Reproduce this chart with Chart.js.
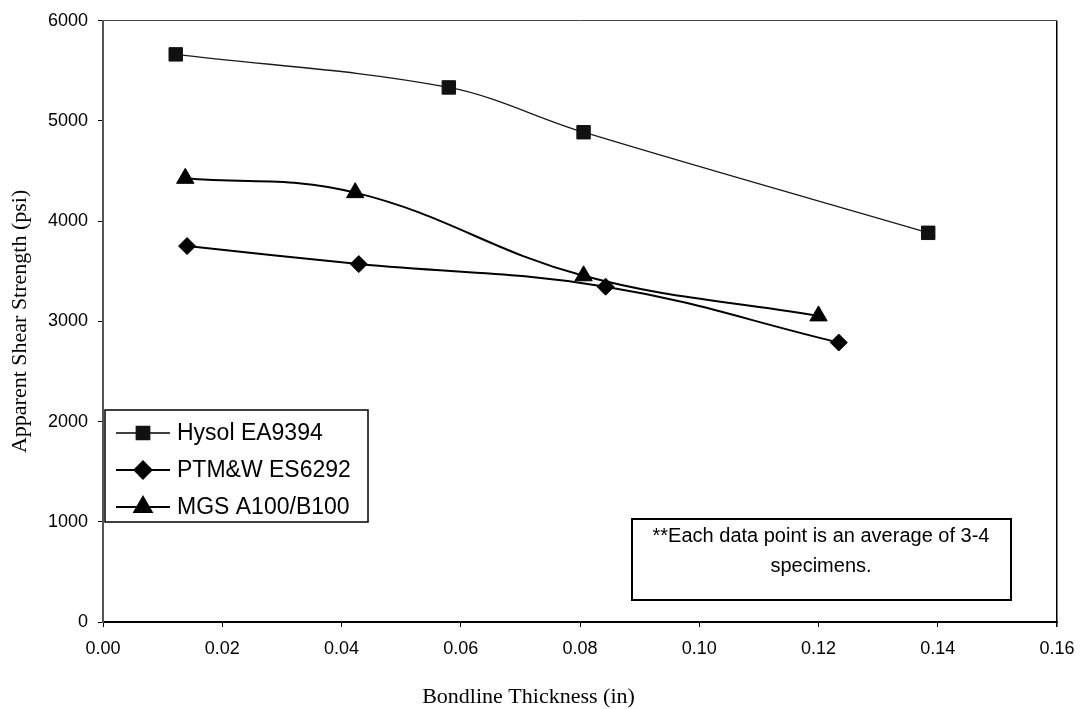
<!DOCTYPE html>
<html>
<head>
<meta charset="utf-8">
<title>Apparent Shear Strength vs Bondline Thickness</title>
<script src="https://cdn.jsdelivr.net/npm/chart.js@4.4.1/dist/chart.umd.min.js"></script>
<style>
  html, body { margin: 0; padding: 0; background: #fff; }
  #wrap { width: 1081px; height: 709px; position: relative; }
</style>
</head>
<body>
<div id="wrap"><canvas id="shearChart"></canvas></div>
<script>
// values
const seriesNames = ["Hysol EA9394", "PTM&W ES6292", "MGS A100/B100"];

const hysolX = [0.0122, 0.0580, 0.0806, 0.1384];
const hysolY = [5665, 5335, 4888, 3884];

const ptmwX = [0.0141, 0.0429, 0.0843, 0.1234];
const ptmwY = [3752, 3572, 3346, 2789];

const mgsX = [0.0138, 0.0423, 0.0806, 0.1200];
const mgsY = [4428, 4285, 3455, 3055];

const xTicks = [0, 0.02, 0.04, 0.06, 0.08, 0.10, 0.12, 0.14, 0.16];
const yTicks = [0, 1000, 2000, 3000, 4000, 5000, 6000];

const xTitle = "Bondline Thickness (in)";
const yTitle = "Apparent Shear Strength (psi)";
const noteLines = ["**Each data point is an average of 3-4", "specimens."];

const toPoints = (xs, ys) => xs.map((x, i) => ({ x: x, y: ys[i] }));

// legend + note box drawn inside the plot area
const boxesPlugin = {
  id: "boxes",
  afterDraw(chart) {
    const ctx = chart.ctx;
    ctx.save();

    // legend
    ctx.strokeStyle = "#000";
    ctx.lineWidth = 1.5;
    ctx.strokeRect(105, 410, 263, 112);
    const rows = [433, 470, 507];
    chart.data.datasets.forEach((ds, i) => {
      const ry = rows[i];
      ctx.beginPath();
      ctx.strokeStyle = "#000";
      ctx.lineWidth = ds.borderWidth;
      ctx.moveTo(116, ry);
      ctx.lineTo(170, ry);
      ctx.stroke();
      ctx.fillStyle = ds.pointBackgroundColor;
      ctx.strokeStyle = ds.pointBorderColor;
      Chart.helpers.drawPoint(ctx, {
        pointStyle: ds.pointStyle,
        radius: ds.pointRadius,
        rotation: 0,
        borderWidth: 1
      }, 143, ry);
      ctx.fillStyle = "#000";
      ctx.font = "23px 'Liberation Sans', Arial, sans-serif";
      ctx.textAlign = "left";
      ctx.textBaseline = "middle";
      ctx.fillText(ds.label, 177, ry + 1);
    });

    // note
    ctx.strokeStyle = "#000";
    ctx.lineWidth = 2;
    ctx.strokeRect(632, 519, 379, 81);
    ctx.fillStyle = "#000";
    ctx.font = "20px 'Liberation Sans', Arial, sans-serif";
    ctx.textAlign = "center";
    ctx.textBaseline = "middle";
    ctx.fillText(noteLines[0], 821, 536);
    ctx.fillText(noteLines[1], 821, 566);

    ctx.restore();
  }
};

const tickFont = { family: "'Liberation Sans', Arial, sans-serif", size: 18 };
const titleFont = { family: "'Liberation Serif', 'Times New Roman', serif", size: 22, weight: "normal", lineHeight: 1.05 };

new Chart(document.getElementById("shearChart"), {
  type: "line",
  data: {
    datasets: [
      {
        label: seriesNames[0],
        data: toPoints(hysolX, hysolY),
        borderColor: "#1a1a1a",
        borderWidth: 1.3,
        pointStyle: "rect",
        pointRadius: 9.5,
        pointBackgroundColor: "#111",
        pointBorderColor: "#111",
        pointBorderWidth: 1,
        tension: 0.35,
        fill: false
      },
      {
        label: seriesNames[1],
        data: toPoints(ptmwX, ptmwY),
        borderColor: "#000",
        borderWidth: 2,
        pointStyle: "rectRot",
        pointRadius: 8.5,
        pointBackgroundColor: "#000",
        pointBorderColor: "#000",
        pointBorderWidth: 1,
        tension: 0.4,
        fill: false
      },
      {
        label: seriesNames[2],
        data: toPoints(mgsX, mgsY),
        borderColor: "#000",
        borderWidth: 2,
        pointStyle: "triangle",
        pointRadius: 10,
        pointBackgroundColor: "#000",
        pointBorderColor: "#000",
        pointBorderWidth: 1,
        tension: 0.4,
        fill: false
      }
    ]
  },
  options: {
    responsive: true,
    maintainAspectRatio: false,
    animation: false,
    layout: { padding: { top: 19, right: 24, left: 0, bottom: 0 } },
    plugins: {
      legend: { display: false },
      tooltip: { enabled: false },
      title: {
        display: true,
        position: "bottom",
        text: xTitle,
        color: "#000",
        font: titleFont,
        padding: { top: 8, bottom: 0 }
      }
    },
    scales: {
      x: {
        type: "linear",
        min: 0,
        max: 0.16,
        afterBuildTicks: (s) => { s.ticks = xTicks.map((v) => ({ value: v })); },
        afterFit: (s) => { s.height = 55.9; s.paddingRight = 0; s.paddingLeft = 0; },
        ticks: {
          color: "#000",
          font: tickFont,
          padding: 11,
          maxRotation: 0,
          callback: (v) => Number(v).toFixed(2)
        },
        grid: {
          drawOnChartArea: true,
          color: (c) => (c.index === xTicks.length - 1 ? "#000" : "rgba(0,0,0,0)"),
          lineWidth: (c) => (c.index === xTicks.length - 1 ? 1.5 : 1),
          tickColor: "#000",
          tickLength: 5
        },
        border: { display: true, color: "#000", width: 2 }
      },
      y: {
        type: "linear",
        min: 0,
        max: 6000,
        afterBuildTicks: (s) => { s.ticks = yTicks.map((v) => ({ value: v })); },
        afterFit: (s) => { s.width = 103; },
        ticks: {
          color: "#000",
          font: tickFont,
          padding: 10,
          callback: (v) => String(v)
        },
        grid: {
          drawOnChartArea: true,
          color: (c) => (c.index === yTicks.length - 1 ? "#444" : "rgba(0,0,0,0)"),
          lineWidth: 1,
          tickColor: "#000",
          tickLength: 5
        },
        border: { display: true, color: "#555", width: 2 },
        title: {
          display: true,
          text: yTitle,
          color: "#000",
          font: { family: "'Liberation Serif', 'Times New Roman', serif", size: 22 },
          padding: { top: 7, bottom: 0 }
        }
      }
    }
  },
  plugins: [boxesPlugin]
});
</script>
</body>
</html>
